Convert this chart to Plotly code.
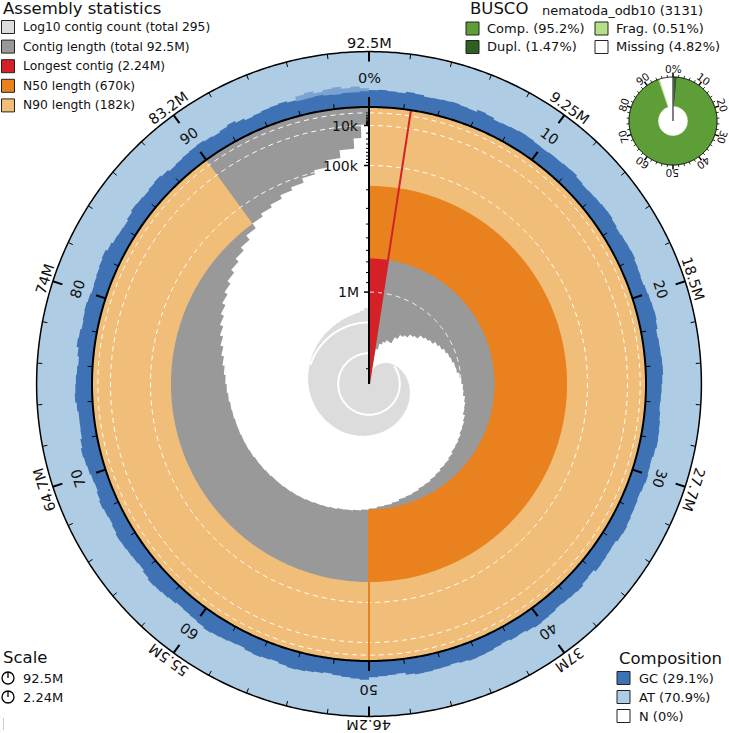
import math
import numpy as np
import plotly.graph_objects as go

# ---------------- data ----------------
TOTAL_LEN = 92.5e6
LONGEST = 2.24e6
N50 = 670e3
N90 = 182e3
CONTIG_COUNT = 295
GC_PCT, AT_PCT, N_PCT = 29.1, 70.9, 0.0

BUSCO_LINEAGE = "nematoda_odb10"
BUSCO_TOTAL = 3131
BUSCO_COMP, BUSCO_DUPL, BUSCO_FRAG, BUSCO_MISS = 95.2, 1.47, 0.51, 4.82

# contig length profile: bin edges (% of assembly) and length (kb) per bin
len_edges_pct = [2.42] + list(range(3, 100)) + [99.5, 100]
len_kb = [1950, 1700, 1620, 1580, 1545, 1552, 1460, 1400,
          1370, 1320, 1296, 1240, 1215, 1190, 1150, 1128, 1100, 1080,
          1065, 1045, 1036, 1010, 995, 978, 970, 948, 935, 928,
          905, 890, 882, 866, 853, 846, 828, 815, 808, 792,
          780, 768, 761, 746, 735, 728, 712, 700, 693, 680,
          668, 660, 652, 648, 640, 633, 628, 620, 614, 609,
          605, 600, 598, 591, 586, 583, 576, 571, 568, 563,
          560, 553, 548, 538, 529, 519, 505, 488, 468, 446,
          422, 398, 374, 350, 327, 304, 281, 258, 235, 208,
          181, 166, 153, 137, 125, 107, 93, 71, 50,
          28, 9]

# cumulative contig count at the end of each 1% of the assembly
count_cum = [1, 1, 2, 2.8, 3.4, 4.0, 4.6, 5.2, 5.9, 6.6,
             7.3, 8.1, 8.8, 9.6, 10.4, 11.2, 12.0, 12.8, 13.7, 14.6,
             15.5, 16.4, 17.3, 18.2, 19.2, 20.1, 21.0, 22.0, 23.0, 24.0,
             25.0, 26.0, 27.0, 28.0, 29.0, 30.0, 31.0, 32.1, 33.2, 34.3,
             35.4, 36.5, 37.6, 38.8, 40.0, 41.2, 42.4, 43.6, 44.9, 46.2,
             47.5, 49.0, 50.4, 51.9, 53.4, 54.9, 56.5, 58.1, 59.7, 61.0,
             62.4, 63.9, 65.6, 67.5, 69.4, 71.4, 73.4, 75.5, 77.6, 79.8,
             82.0, 84.5, 87.0, 89.5, 92.0, 94.5, 97.0, 99.5, 102, 105,
             108.5, 112, 116, 120, 124.5, 129, 134, 139, 144, 149.5,
             155, 162, 169, 177, 185, 194, 205, 220, 245, 295]

# GC % for each 0.5% of the assembly
gc_bins = [30.5, 31.2, 29.8, 28.9, 31.9, 30.4, 28.4, 29.1, 30.1, 31.0, 29.5, 28.6, 32.3, 30.8, 27.6, 28.9, 29.9, 31.2, 30.6, 29.0,
           28.2, 29.7, 29.3, 30.5, 31.4, 29.0, 27.3, 28.5, 29.6, 30.9, 31.6, 29.8, 28.0, 29.4, 30.2, 31.1, 29.0, 27.9, 26.8, 28.3,
           29.8, 31.0, 32.0, 30.4, 27.7, 28.9, 29.4, 30.6, 31.2, 29.5, 28.3, 27.5, 26.4, 28.1, 29.7, 30.8, 31.5, 29.9, 27.9, 28.6,
           30.1, 28.7, 27.1, 28.4, 29.2, 30.5, 32.2, 30.9, 28.1, 28.8, 29.9, 30.7, 26.8, 28.0, 30.9, 29.6, 28.6, 27.4, 29.6, 30.3,
           31.8, 29.9, 27.5, 28.3, 26.3, 27.8, 29.5, 30.7, 31.3, 29.4, 27.4, 28.6, 29.1, 30.2, 30.8, 29.1, 25.2, 26.9, 28.0, 29.5,
           34.0, 32.1, 30.6, 29.0, 27.0, 28.4, 29.8, 31.3, 32.1, 30.0, 27.7, 28.9, 30.5, 29.2, 26.6, 27.9, 29.3, 30.8, 32.4, 30.1,
           28.2, 27.0, 26.0, 28.3, 30.0, 31.4, 32.7, 30.1, 27.3, 28.5, 29.4, 30.6, 31.6, 29.5, 27.8, 29.2, 30.9, 28.8, 26.4, 27.7,
           29.7, 31.3, 32.9, 30.4, 27.5, 26.9, 26.8, 28.8, 31.4, 30.2, 29.2, 27.7, 25.9, 28.6, 32.0, 30.4, 28.1, 29.3, 30.6, 29.0,
           27.2, 28.5, 29.9, 31.5, 33.3, 30.2, 27.6, 26.5, 25.7, 28.4, 31.2, 30.1, 29.0, 30.6, 32.3, 29.8, 26.9, 28.1, 29.6, 30.4,
           31.3, 29.4, 27.8, 30.2, 33.0, 29.5, 26.2, 27.7, 29.4, 30.5, 31.7, 28.9, 26.5, 27.3, 28.4, 26.9, 25.8, 27.2, 27.0, 28.5]
# upper GC range shown for the last 4% of the assembly (0.5% bins)
gc_max_tail = [35.5, 38.0, 34.2, 37.1, 39.0, 35.3, 37.4, 34.0]

outer_labels = ["92.5M", "9.25M", "18.5M", "27.7M", "37M",
                "46.2M", "55.5M", "64.7M", "74M", "83.2M"]
inner_labels = ["0%", "10", "20", "30", "40", "50", "60", "70", "80", "90"]
axis_major = [1e4, 1e5, 1e6]
axis_major_text = ["10k", "100k", "1M"]
axis_minor = [1e3, 2e3, 3e3, 4e3, 5e3, 6e3, 7e3, 8e3, 9e3,
              2e4, 3e4, 4e4, 5e4, 6e4, 7e4, 8e4, 9e4,
              2e5, 3e5, 4e5, 5e5, 6e5, 7e5, 8e5, 9e5, 2e6]
dash_lengths = [1e3, 1e4, 1e5, 1e6]
count_lines = [10, 100]
busco_labels = ["0%", "10", "20", "30", "40", "50", "60", "70", "80", "90"]

# ---------------- style / geometry ----------------
W, H = 729, 733
CX, CY = 369, 384          # centre of snail (px)
RPX = 277.0                # inner radius (px) = 1 radial unit
RING = 0.2                 # composition ring thickness
RMAX = 1.21
K_COUNT = 30.8 / RPX       # radius per decade of contig count
FONT = "DejaVu Sans, Verdana, sans-serif"

C_COUNT = "#dcdcdc"
C_LEN = "#999999"
C_LONG = "#d52028"
C_N50 = "#e8811e"
C_N90 = "#f0be78"
C_GC = "#3f72b4"
C_GCR = "#7aa3d2"
C_AT = "#aecce4"
C_COMP = "#5e9e38"
C_DUPL = "#2f5f22"
C_FRAG = "#b4e08a"

BCX, BCY, BR = 673, 121, 44.0   # busco donut centre/radius (px)
BRMAX = 1.12


def r_len(L):
    return 1 - math.sqrt(L / LONGEST)


def arc(r, t0, t1, step=1.0):
    n = max(2, int(abs(t1 - t0) / step) + 1)
    th = list(np.linspace(t0, t1, n))
    return [r] * n, th


fig = go.Figure()
# dummy cartesian trace so that the overlay axes exist (for text)
fig.add_trace(go.Scatter(x=[None], y=[None], hoverinfo="skip", showlegend=False))


def poly(rr, tt, color, sub="polar"):
    return go.Scatterpolar(r=rr, theta=tt, mode="lines", fill="toself",
                           fillcolor=color, line=dict(width=0, color=color),
                           subplot=sub, hoverinfo="skip", showlegend=False)


def lines(rr, tt, color, width, sub="polar", dash=None):
    return go.Scatterpolar(r=rr, theta=tt, mode="lines", subplot=sub,
                           line=dict(color=color, width=width, dash=dash),
                           hoverinfo="skip", showlegend=False)


def sector(r0, r1, t0, t1, color):
    ro, to = arc(r1, t0, t1)
    ri, ti = arc(r0, t1, t0)
    return poly(ro + ri, to + ti, color)


def stepped(vals, edges_deg):
    rr, tt = [], []
    for v, a, b in zip(vals, edges_deg[:-1], edges_deg[1:]):
        rr += [v, v]
        tt += [a, b]
    return rr, tt


# --- composition ring background (AT) ---
fig.add_trace(sector(1.0, 1.0 + RING, 0, 360, C_AT))

# --- count spiral ---
deg1 = [i * 3.6 for i in range(101)]
rc = [K_COUNT * math.log10(c) for c in count_cum]
rr, tt = stepped(rc, deg1)
fig.add_trace(poly(rr + [0], tt + [360], C_COUNT))
for n in count_lines:
    rl = K_COUNT * math.log10(n)
    first = next(i for i, v in enumerate(rc) if v > rl + 1.0 / RPX)
    r_, t_ = arc(rl, deg1[first], 360)
    fig.add_trace(lines(r_, t_, "white", 2))

# --- contig length ---
edges_deg = [p * 3.6 for p in len_edges_pct]
base_l = [r_len(v * 1e3) for v in len_kb]
ri, ti = stepped(base_l, edges_deg)
ro, to = arc(1.0, 360, edges_deg[0])
fig.add_trace(poly(ri + ro, ti + to, C_LEN))

# --- longest, N50, N90 ---
long_deg = LONGEST / TOTAL_LEN * 360
fig.add_trace(sector(0, 1, 0, long_deg, C_LONG))
fig.add_trace(sector(r_len(N50), 1, 0, 0.5 * 360, C_N50))
fig.add_trace(sector(r_len(N90), 1, 0, 0.9 * 360, C_N90))

# --- GC ---
nb = len(gc_bins)
deg_gc = [i * 360 / nb for i in range(nb + 1)]
ntail = len(gc_max_tail)
rg, tg = stepped([1.0 + g / 100 * RING for g in gc_max_tail], deg_gc[nb - ntail:])
ri, ti = arc(1.0, 360, deg_gc[nb - ntail])
fig.add_trace(poly(rg + ri, tg + ti, C_GCR))
rg, tg = stepped([1.0 + g / 100 * RING for g in gc_bins], deg_gc)
ri, ti = arc(1.0, 360, 0)
fig.add_trace(poly(rg + ri, tg + ti, C_GC))

circ = list(np.linspace(0, 360, 721))
# dashed scale circles
for L in dash_lengths:
    fig.add_trace(lines([r_len(L)] * len(circ), circ, "white", 1, dash="5px,4px"))

# longest and N50 edge lines
fig.add_trace(lines([0, 1], [long_deg, long_deg], C_LONG, 2))
fig.add_trace(lines([r_len(N50), 1], [180, 180], C_N50, 2))

# circles
fig.add_trace(lines([1.0] * len(circ), circ, "black", 2))
fig.add_trace(lines([1.0 + RING] * len(circ), circ, "black", 1.5))


def ticks(thetas, r0, r1):
    rr, tt = [], []
    for t in thetas:
        rr += [r0, r1, None]
        tt += [t, t, None]
    return rr, tt


maj = [p * 3.6 for p in range(0, 100, 10)]
mnr = [p * 3.6 for p in range(0, 100, 2) if p % 10]
for r0, sgn in [(1.0 + RING, -1), (1.0, 1)]:
    rr, tt = ticks(maj, r0, r0 + sgn * 10 / RPX)
    fig.add_trace(lines(rr, tt, "black", 2))
    rr, tt = ticks(mnr, r0, r0 + sgn * 5 / RPX)
    fig.add_trace(lines(rr, tt, "black", 1))

# radial axis
fig.add_trace(lines([0, 1.0], [0, 0], "black", 2))


def axis_ticks(vals, d):
    rr, tt = [], []
    for L in vals:
        r = r_len(L)
        rr += [r, math.hypot(r, d), None]
        tt += [0, -math.degrees(math.atan2(d, r)), None]
    return rr, tt


rr, tt = axis_ticks(axis_major, 5 / RPX)
fig.add_trace(lines(rr, tt, "black", 1.5))
rr, tt = axis_ticks(axis_minor, 3 / RPX)
fig.add_trace(lines(rr, tt, "black", 1))

# ---------------- BUSCO donut ----------------
miss0 = 100 - BUSCO_MISS
frag0 = miss0 - BUSCO_FRAG
segs = [(0, BUSCO_DUPL, C_DUPL), (BUSCO_DUPL, frag0, C_COMP),
        (frag0, miss0, C_FRAG), (miss0, 100, "white")]
HOLE = 15 / BR
fig.add_trace(go.Barpolar(theta=[(a + b) / 2 * 3.6 for a, b, c in segs],
                          width=[(b - a) * 3.6 for a, b, c in segs],
                          base=[HOLE] * 4, r=[1 - HOLE] * 4, subplot="polar2",
                          marker=dict(color=[c for a, b, c in segs],
                                      line=dict(color=[c for a, b, c in segs], width=0.5)),
                          hoverinfo="skip", showlegend=False))
fig.add_trace(lines([0, 1], [0, 0], "#555555", 1.5, sub="polar2"))
fig.add_trace(lines([1.0] * len(circ), circ, "black", 1, sub="polar2"))
rr, tt = ticks(maj, 1.0, 1.0 + 4.5 / BR)
fig.add_trace(lines(rr, tt, "black", 1.5, sub="polar2"))
rr, tt = ticks(mnr, 1.0, 1.0 + 2.5 / BR)
fig.add_trace(lines(rr, tt, "black", 0.8, sub="polar2"))

# ---------------- annotations (text) ----------------
ann = []


def txt(x, y, s, size, angle=0, xa="center", ya="middle"):
    a = angle if angle <= 180 else angle - 360
    ann.append(dict(x=x, y=y, xref="x", yref="y",
                    text=s, showarrow=False, textangle=a,
                    xanchor=xa, yanchor=ya,
                    font=dict(family=FONT, size=size, color="#111111")))


for i, s in enumerate(outer_labels):
    t = i * 36
    u = 341 / RPX
    txt(u * math.sin(math.radians(t)), u * math.cos(math.radians(t)), s, 14.5, t)
for i, s in enumerate(inner_labels):
    t = i * 36
    u = 306 / RPX
    txt(u * math.sin(math.radians(t)), u * math.cos(math.radians(t)), s, 14.5, t)
for L, s in zip(axis_major, axis_major_text):
    txt(-8 / RPX, r_len(L), s, 14, 0, xa="right")

bx, by = (BCX - CX) / RPX, (CY - BCY) / RPX
for i, s in enumerate(busco_labels):
    t = i * 36
    u = 52 / RPX
    txt(bx + u * math.sin(math.radians(t)), by + u * math.cos(math.radians(t)), s, 10.5, t)


def ptxt(px, py, s, size):
    ann.append(dict(x=px / W, y=1 - py / H, xref="paper", yref="paper", text=s,
                    showarrow=False, xanchor="left", yanchor="middle",
                    font=dict(family=FONT, size=size, color="#111111")))


shapes = []


def box(px, py, color, size=13):
    shapes.append(dict(type="rect", xref="paper", yref="paper",
                       x0=px / W, x1=(px + size) / W,
                       y0=1 - (py + size / 2) / H, y1=1 - (py - size / 2) / H,
                       fillcolor=color, line=dict(color="#222222", width=1)))


# assembly statistics legend
ptxt(1, 9, "Assembly statistics", 16.5)
asm_items = [(C_COUNT, f"Log10 contig count (total {CONTIG_COUNT})"),
             (C_LEN, "Contig length (total 92.5M)"),
             (C_LONG, "Longest contig (2.24M)"),
             (C_N50, "N50 length (670k)"),
             (C_N90, "N90 length (182k)")]
for k, (c, s) in enumerate(asm_items):
    yc = 27 + k * 19.6
    box(1.5, yc, c)
    ptxt(21, yc, s, 12.3)

# busco legend
ptxt(468, 9, "BUSCO", 16.5)
ptxt(540, 10, f"{BUSCO_LINEAGE} ({BUSCO_TOTAL})", 13)
busco_items = [(466, 28.5, C_COMP, f"Comp. ({BUSCO_COMP}%)"),
               (595, 28.5, C_FRAG, f"Frag. ({BUSCO_FRAG}%)"),
               (466, 47, C_DUPL, f"Dupl. ({BUSCO_DUPL}%)"),
               (595, 47, "white", f"Missing ({BUSCO_MISS}%)")]
for px, py, c, s in busco_items:
    box(px, py, c)
    ptxt(px + 19, py, s, 13)

# composition legend
ptxt(617, 658, "Composition", 16.5)
comp_items = [(C_GC, f"GC ({GC_PCT}%)"), (C_AT, f"AT ({AT_PCT}%)"),
              ("white", f"N ({N_PCT:g}%)")]
for k, (c, s) in enumerate(comp_items):
    yc = 678 + k * 19
    box(617, yc, c)
    ptxt(637, yc, s, 13)

# scale legend
ptxt(1, 657, "Scale", 16.5)
for k, s in enumerate(["92.5M", "2.24M"]):
    yc = 678 + k * 19
    shapes.append(dict(type="circle", xref="paper", yref="paper",
                       x0=2 / W, x1=14 / W, y0=1 - (yc + 6) / H, y1=1 - (yc - 6) / H,
                       line=dict(color="black", width=1.3)))
    shapes.append(dict(type="line", xref="paper", yref="paper",
                       x0=8 / W, x1=8 / W, y0=1 - (yc - 6) / H, y1=1 - yc / H,
                       line=dict(color="black", width=1.3)))
    ptxt(21, yc, s, 13)
shapes.append(dict(type="line", xref="paper", yref="paper", x0=3.5 / W, x1=3.5 / W,
                   y0=1 - 730 / H, y1=1 - 718 / H, line=dict(color="#cccccc", width=1)))

# ---------------- layout ----------------
R_MAIN = RPX * RMAX
R_B = BR * BRMAX
fig.update_layout(
    width=W, height=H, margin=dict(l=0, r=0, t=0, b=0),
    paper_bgcolor="white", plot_bgcolor="rgba(0,0,0,0)", showlegend=False,
    xaxis=dict(range=[-CX / RPX, (W - CX) / RPX], domain=[0, 1], visible=False, fixedrange=True),
    yaxis=dict(range=[-(H - CY) / RPX, CY / RPX], domain=[0, 1], visible=False, fixedrange=True),
    polar=dict(domain=dict(x=[(CX - R_MAIN) / W, (CX + R_MAIN) / W],
                           y=[(H - CY - R_MAIN) / H, (H - CY + R_MAIN) / H]),
               bgcolor="rgba(0,0,0,0)",
               angularaxis=dict(rotation=90, direction="clockwise", visible=False),
               radialaxis=dict(range=[0, RMAX], visible=False)),
    polar2=dict(domain=dict(x=[(BCX - R_B) / W, (BCX + R_B) / W],
                            y=[(H - BCY - R_B) / H, (H - BCY + R_B) / H]),
                bgcolor="rgba(0,0,0,0)", barmode="overlay", bargap=0,
                angularaxis=dict(rotation=90, direction="clockwise", visible=False),
                radialaxis=dict(range=[0, BRMAX], visible=False)),
    annotations=ann, shapes=shapes,
)

fig.write_html("out.html")
